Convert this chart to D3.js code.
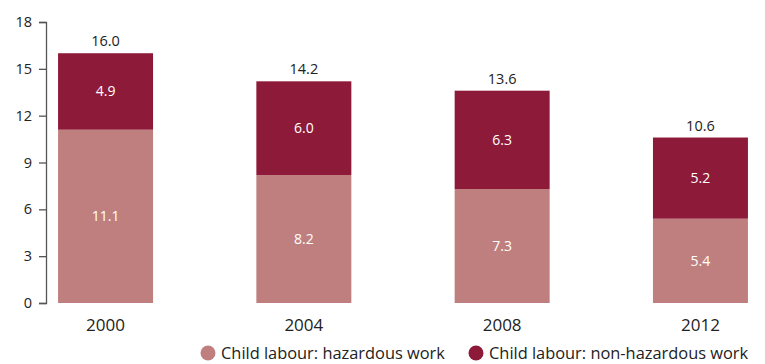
<!DOCTYPE html>
<html><head><meta charset="utf-8">
<script src="https://cdn.jsdelivr.net/npm/d3@7"></script>
<style>body{margin:0;background:#fff}svg{display:block;font-family:"Open Sans",sans-serif}</style>
</head><body><svg id="c" width="765" height="364"></svg>
<script>
const years = ["2000","2004","2008","2012"];
const hazardous = [11.1, 8.2, 7.3, 5.4];
const nonHazardous = [4.9, 6.0, 6.3, 5.2];
const totals = [16.0, 14.2, 13.6, 10.6];
const yTicks = [0,3,6,9,12,15,18];
const seriesNames = ["Child labour: hazardous work","Child labour: non-hazardous work"];
const colors = ["#bf7f7e","#8e1a3a"];

const svg = d3.select("#c");
const x = d3.scaleBand().domain(years).range([6.4, 799.6]).paddingInner(0.521).paddingOuter(0.2605);
const y = d3.scaleLinear().domain([0,18]).range([303, 22]);

const yAxis = svg.append("g").attr("transform","translate(46,0)")
  .call(d3.axisLeft(y).tickValues(yTicks).tickSize(7).tickPadding(7));
yAxis.select(".domain").attr("stroke","#555").attr("stroke-width",1.3);
yAxis.selectAll(".tick line").attr("stroke","#555").attr("stroke-width",1.3);
yAxis.selectAll("text").attr("font-size",14.5).attr("fill","#222").attr("font-family","Open Sans");

const data = years.map((yr,i)=>({year:yr, h:hazardous[i], n:nonHazardous[i], t:totals[i]}));
const stack = d3.stack().keys(["h","n"])(data);

stack.forEach((layer,li)=>{
  svg.append("g").selectAll("rect").data(layer).join("rect")
    .attr("x",d=>x(d.data.year)).attr("width",x.bandwidth())
    .attr("y",d=>y(d[1])).attr("height",d=>y(d[0])-y(d[1]))
    .attr("fill",colors[li]);
  svg.append("g").selectAll("text").data(layer).join("text")
    .attr("x",d=>x(d.data.year)+x.bandwidth()/2)
    .attr("y",d=>y((d[0]+d[1])/2)+5)
    .attr("text-anchor","middle").attr("font-size",14).attr("fill","#fff")
    .text(d=>(d[1]-d[0]).toFixed(1));
});

svg.append("g").selectAll("text").data(data).join("text")
  .attr("x",d=>x(d.year)+x.bandwidth()/2).attr("y",d=>y(d.t)-7)
  .attr("text-anchor","middle").attr("font-size",14.5).attr("fill","#222")
  .text(d=>d.t.toFixed(1));

svg.append("g").selectAll("text").data(years).join("text")
  .attr("x",d=>x(d)+x.bandwidth()/2).attr("y",331)
  .attr("text-anchor","middle").attr("font-size",17).attr("fill","#222").text(d=>d);

const legX = [208, 476];
seriesNames.forEach((s,i)=>{
  svg.append("circle").attr("cx",legX[i]).attr("cy",353).attr("r",7.5).attr("fill",colors[i]);
  svg.append("text").attr("x",legX[i]+13).attr("y",358.5).attr("font-size",16.4).attr("fill","#222").text(s);
});
</script></body></html>
